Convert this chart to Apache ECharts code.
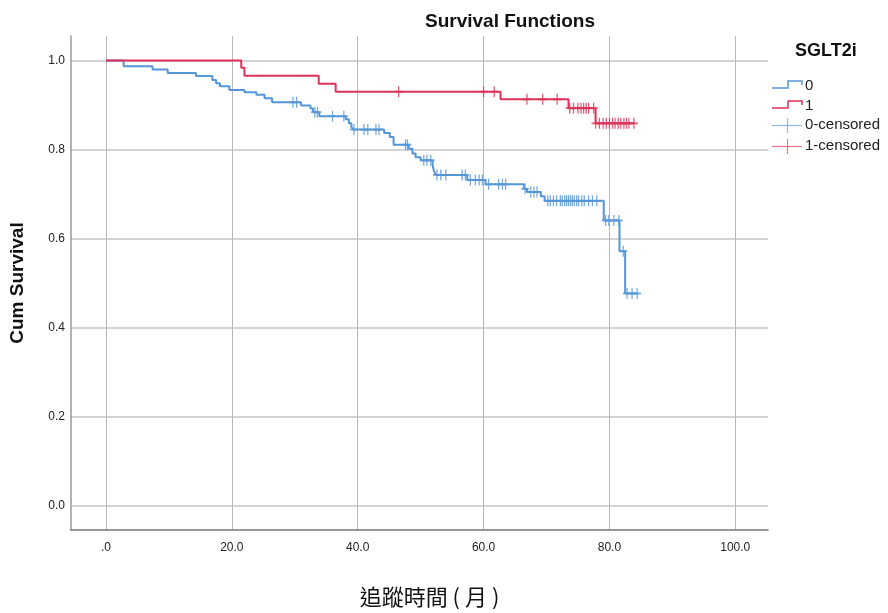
<!DOCTYPE html>
<html>
<head>
<meta charset="utf-8">
<script src="https://cdn.jsdelivr.net/npm/echarts@6/dist/echarts.min.js"></script>
<style>
html,body{margin:0;padding:0;background:#fff;}
#chart{width:888px;height:613px;}
</style>
</head>
<body>
<div id="chart"></div>
<script>
// ---- data ----
const xTicks = [0, 20, 40, 60, 80, 100];
const yTicks = [0, 0.2, 0.4, 0.6, 0.8, 1.0];

// group 0 : step times and survival after each step
const g0Times = [0, 2.8, 7.4, 9.8, 14.3, 16.9, 17.5, 18.1, 19.6, 22.0, 23.9, 25.2, 26.4, 31.0, 32.5, 32.9, 33.9,
  38.1, 38.6, 39.0, 39.3, 44.2, 45.1, 45.7, 48.1, 48.7, 49.2, 50.0, 51.9, 52.1, 52.4, 57.4, 60.3, 66.4, 66.9,
  69.1, 69.7, 79.1, 81.6, 82.5, 84.6];
const g0Surv = [1.0, 0.987, 0.980, 0.972, 0.965, 0.956, 0.949, 0.942, 0.934, 0.929, 0.923, 0.915, 0.906, 0.899, 0.892, 0.884, 0.875,
  0.868, 0.859, 0.851, 0.845, 0.837, 0.828, 0.811, 0.802, 0.791, 0.783, 0.776, 0.765, 0.753, 0.743, 0.732, 0.722, 0.712, 0.705,
  0.695, 0.685, 0.641, 0.572, 0.477, 0.477];
const g0Censored = [29.7, 30.3, 33.2, 33.6, 36.0, 37.8, 39.4, 41.0, 41.6, 42.9, 43.4, 47.6, 47.9, 50.5, 51.0, 51.6,
  52.6, 53.2, 54.0, 56.6, 57.1, 57.9, 58.7, 59.3, 59.8, 60.8, 62.4, 63.0, 63.5, 66.6, 67.5, 68.0, 68.5,
  70.2, 70.6, 71.1, 71.6, 72.2, 72.5, 72.9, 73.2, 73.5, 73.8, 74.1, 74.4, 74.8, 75.1, 75.6, 76.0, 76.7, 77.3, 78.0,
  79.4, 79.9, 80.7, 81.5, 82.2, 82.8, 83.6, 84.4];

// group 1
const g1Times = [0, 21.5, 22.0, 33.8, 36.5, 62.7, 73.5, 77.8, 84.0];
const g1Surv = [1.0, 0.984, 0.966, 0.948, 0.930, 0.913, 0.893, 0.859, 0.859];
const g1Censored = [46.5, 60.0, 61.7, 66.9, 69.4, 71.7, 73.7, 74.3, 75.0, 75.5, 75.9, 76.3, 76.7, 77.5,
  77.8, 78.4, 79.0, 79.5, 80.0, 80.5, 80.9, 81.4, 81.8, 82.3, 82.7, 83.1, 83.9];

const groupNames = ['0', '1'];

// ---- helpers ----
function pairs(ts, vs) { return ts.map((t, i) => [t, vs[i]]); }
function survAt(ts, vs, t) {
  let v = vs[0];
  for (let i = 0; i < ts.length; i++) { if (ts[i] <= t) v = vs[i]; }
  return v;
}
function censorPts(cs, ts, vs) { return cs.map(t => [t, survAt(ts, vs, t)]); }

const BLUE = '#5596d6';
const RED = '#dd3358';
const FONT = 'Liberation Sans, Arial, sans-serif';
const plusPath = 'path://M0,5L8,5M4,0L4,10';

const chart = echarts.init(document.getElementById('chart'), null, {renderer: 'canvas'});
const option = {
  backgroundColor: '#fff',
  animation: false,
  title: {
    text: 'Survival Functions',
    left: 420, top: 7,
    textStyle: {fontFamily: FONT, fontSize: 19, fontWeight: 'bold', color: '#111'}
  },
  grid: {left: 70, right: 120, top: 36, bottom: 83, containLabel: false},
  xAxis: {
    type: 'value', min: -5.56, max: 105.2,
    name: '追蹤時間 ( 月 )', nameLocation: 'middle', nameGap: 56,
    nameTextStyle: {fontFamily: 'Noto Sans CJK TC', fontSize: 22, color: '#111', padding: [0, 0, 0, 20]},
    axisLine: {show: true, onZero: false, lineStyle: {color: '#777', width: 1.5}},
    axisTick: {show: false, customValues: xTicks},
    axisLabel: {customValues: xTicks, fontFamily: FONT, fontSize: 12, color: '#222', margin: 12,
      formatter: v => (v === 0 ? '.0' : v.toFixed(1))},
    splitLine: {show: true, lineStyle: {color: '#b8b8b8', width: 1}}
  },
  yAxis: {
    type: 'value', min: -0.054, max: 1.055,
    name: 'Cum Survival', nameLocation: 'middle', nameGap: 44,
    nameTextStyle: {fontFamily: FONT, fontSize: 19, fontWeight: 'bold', color: '#111'},
    axisLine: {show: true, onZero: false, lineStyle: {color: '#999', width: 1.5}},
    axisTick: {show: false, customValues: yTicks},
    axisLabel: {customValues: yTicks, fontFamily: FONT, fontSize: 12, color: '#222', margin: 6,
      formatter: v => v.toFixed(1)},
    splitLine: {show: true, lineStyle: {color: '#c4c4c4', width: 1.5}}
  },
  series: [
    {name: groupNames[0], type: 'line', step: 'end', data: pairs(g0Times, g0Surv), showSymbol: false,
      lineStyle: {color: BLUE, width: 2}, z: 3},
    {name: groupNames[1], type: 'line', step: 'end', data: pairs(g1Times, g1Surv), showSymbol: false,
      lineStyle: {color: RED, width: 2}, z: 4},
    {name: groupNames[0] + '-censored', type: 'scatter', data: censorPts(g0Censored, g0Times, g0Surv),
      symbol: plusPath, symbolSize: [8, 11],
      itemStyle: {color: 'rgba(0,0,0,0)', borderColor: BLUE, borderWidth: 1.5}, z: 5},
    {name: groupNames[1] + '-censored', type: 'scatter', data: censorPts(g1Censored, g1Times, g1Surv),
      symbol: plusPath, symbolSize: [8, 11],
      itemStyle: {color: 'rgba(0,0,0,0)', borderColor: RED, borderWidth: 1.5}, z: 6}
  ],
  graphic: [
    {type: 'text', left: 795, top: 42, style: {text: 'SGLT2i', font: 'bold 18px ' + FONT, fill: '#111'}},
    {type: 'polyline', shape: {points: [[772, 88], [788, 88], [788, 81], [802, 81], [802, 85]]},
      style: {stroke: BLUE, lineWidth: 1.5, fill: null}},
    {type: 'text', x: 805, y: 86, style: {text: groupNames[0], font: '15px ' + FONT, fill: '#222', verticalAlign: 'middle'}},
    {type: 'polyline', shape: {points: [[772, 108], [788, 108], [788, 101], [802, 101], [802, 105]]},
      style: {stroke: RED, lineWidth: 1.5, fill: null}},
    {type: 'text', x: 805, y: 106, style: {text: groupNames[1], font: '15px ' + FONT, fill: '#222', verticalAlign: 'middle'}},
    {type: 'line', shape: {x1: 772, y1: 125.5, x2: 802, y2: 125.5}, style: {stroke: '#8fb9e6', lineWidth: 1.2}},
    {type: 'line', shape: {x1: 787.5, y1: 118, x2: 787.5, y2: 133}, style: {stroke: '#8fb9e6', lineWidth: 1.2}},
    {type: 'text', x: 805, y: 125, style: {text: groupNames[0] + '-censored', font: '15px ' + FONT, fill: '#222', verticalAlign: 'middle'}},
    {type: 'line', shape: {x1: 772, y1: 146.5, x2: 802, y2: 146.5}, style: {stroke: '#e8738c', lineWidth: 1.2}},
    {type: 'line', shape: {x1: 787.5, y1: 139, x2: 787.5, y2: 154}, style: {stroke: '#e8738c', lineWidth: 1.2}},
    {type: 'text', x: 805, y: 146, style: {text: groupNames[1] + '-censored', font: '15px ' + FONT, fill: '#222', verticalAlign: 'middle'}}
  ]
};
chart.setOption(option);
</script>
</body>
</html>
